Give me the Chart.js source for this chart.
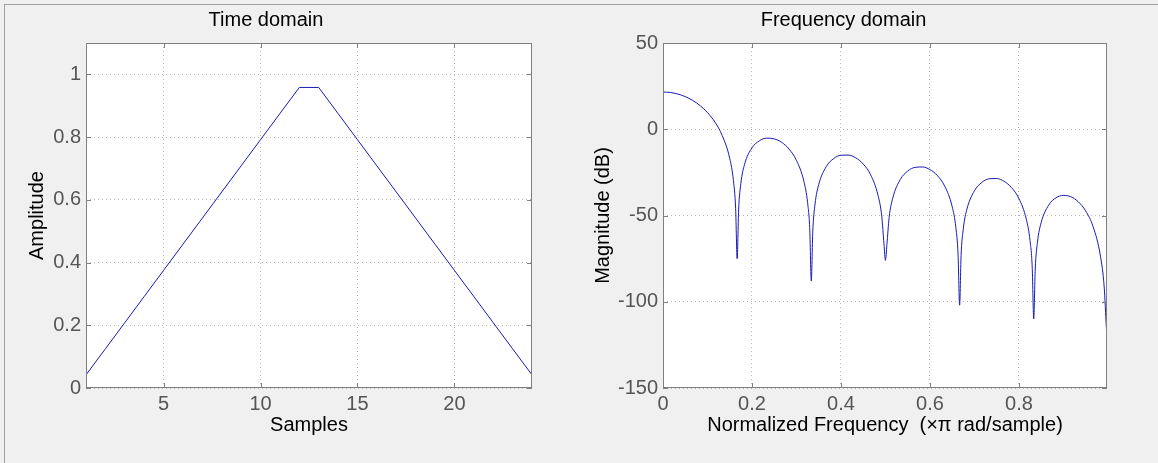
<!DOCTYPE html>
<html>
<head>
<meta charset="utf-8">
<script src="https://cdn.jsdelivr.net/npm/chart.js@4.4.1/dist/chart.umd.min.js"></script>
<style>
  body { margin: 0; background: #f0f0f0; width: 1158px; height: 463px; overflow: hidden; position: relative; }
  #frame { position: absolute; left: 4px; top: 4px; right: 0; bottom: 0; border-top: 1px solid #a0a0a0; border-left: 1px solid #a0a0a0; }
  canvas { position: absolute; top: 0; }
</style>
</head>
<body>
<div id="frame"></div>
<canvas id="timeChart" width="580" height="463" style="left:0"></canvas>
<canvas id="freqChart" width="578" height="463" style="left:580px"></canvas>
<script>
// time domain: window samples
const samples = [1, 2, 3, 4, 5, 6, 7, 8, 9, 10, 11, 12, 13, 14, 15, 16, 17, 18, 19, 20, 21, 22, 23, 24];
const amplitude = [0.0417, 0.125, 0.2083, 0.2917, 0.375, 0.4583, 0.5417, 0.625, 0.7083, 0.7917, 0.875, 0.9583,
                   0.9583, 0.875, 0.7917, 0.7083, 0.625, 0.5417, 0.4583, 0.375, 0.2917, 0.2083, 0.125, 0.0417];
const timeXTicks = [5, 10, 15, 20];
const timeYTicks = [0, 0.2, 0.4, 0.6, 0.8, 1];

// frequency domain: magnitude in dB
const freqX = [0, 0.0167, 0.0333, 0.05, 0.0667, 0.0833, 0.1, 0.1167, 0.1333, 0.15, 0.1583, 0.1633, 0.1667,
  0.17, 0.175, 0.1833, 0.2, 0.2167, 0.2333, 0.25, 0.2667, 0.2833, 0.3, 0.3167, 0.325, 0.33, 0.3333,
  0.3367, 0.3417, 0.35, 0.3667, 0.3833, 0.4, 0.4167, 0.4333, 0.45, 0.4667, 0.4833, 0.4917, 0.4967, 0.5,
  0.5033, 0.5083, 0.5167, 0.5333, 0.55, 0.5667, 0.5833, 0.6, 0.6167, 0.6333, 0.65, 0.6583, 0.6633, 0.6667,
  0.67, 0.675, 0.6833, 0.7, 0.7167, 0.7333, 0.75, 0.7667, 0.7833, 0.8, 0.8167, 0.825, 0.83, 0.8333,
  0.8367, 0.8417, 0.85, 0.8667, 0.8833, 0.9, 0.9167, 0.9333, 0.95, 0.9667, 0.9833, 0.9917, 0.9967, 0.998];
const magnitudeDb = [21.58, 21.30, 20.42, 18.92, 16.73, 13.71, 9.66, 4.16, -3.72, -16.95, -29.73, -46.13, -75,
  -46.80, -31.42, -20.38, -10.79, -6.67, -5.16, -5.59, -7.56, -11.48, -18.07, -30.22, -42.54, -58.68, -88,
  -59.05, -43.46, -32.07, -21.77, -17.06, -15.05, -14.97, -16.58, -20.14, -26.41, -38.27, -50.45, -66.51, -76,
  -66.79, -51.14, -39.64, -29.14, -24.25, -22.09, -21.87, -23.39, -26.84, -33.04, -44.86, -57.01, -73.06, -102,
  -73.32, -57.67, -46.18, -35.67, -30.81, -28.71, -28.55, -30.20, -33.79, -40.17, -52.23, -64.51, -80.62, -110,
  -81.00, -65.45, -54.13, -44.07, -39.76, -38.35, -39.12, -41.98, -47.32, -56.41, -73.62, -91.47, -115.28, -120];
const freqXTicks = [0, 0.2, 0.4, 0.6, 0.8];
const freqYTicks = [-150, -100, -50, 0, 50];

const lineColor = '#1a1ab4';
const fontFamily = '"Liberation Sans", Arial, sans-serif';

// white axes background, grey box and small inward ticks like matlab
const axesBox = {
  id: 'axesBox',
  beforeDraw(chart) {
    const { ctx, chartArea: a } = chart;
    ctx.save();
    ctx.fillStyle = '#ffffff';
    ctx.fillRect(a.left, a.top, a.width, a.height);
    ctx.restore();
  },
  afterDatasetsDraw(chart) {
    const { ctx, chartArea: a, scales } = chart;
    ctx.save();
    ctx.strokeStyle = '#7f7f7f';
    ctx.lineWidth = 1;
    ctx.strokeRect(Math.round(a.left) + 0.5, Math.round(a.top) + 0.5, Math.round(a.width) - 1, Math.round(a.height) - 1);
    ctx.beginPath();
    scales.x.ticks.forEach(t => {
      const px = Math.round(scales.x.getPixelForValue(t.value)) + 0.5;
      ctx.moveTo(px, a.bottom); ctx.lineTo(px, a.bottom - 5);
      ctx.moveTo(px, a.top); ctx.lineTo(px, a.top + 5);
    });
    scales.y.ticks.forEach(t => {
      const py = Math.round(scales.y.getPixelForValue(t.value)) + 0.5;
      ctx.moveTo(a.left, py); ctx.lineTo(a.left + 5, py);
      ctx.moveTo(a.right, py); ctx.lineTo(a.right - 5, py);
    });
    ctx.stroke();
    ctx.restore();
  }
};

function makeChart(id, cfg) {
  const ctx = document.getElementById(id).getContext('2d');
  return new Chart(ctx, {
    type: 'line',
    data: {
      datasets: [{
        data: cfg.xs.map((x, i) => ({ x: x, y: cfg.ys[i] })),
        borderColor: lineColor,
        borderWidth: 1,
        pointRadius: 0,
        fill: false,
        tension: cfg.smooth ? 0.4 : 0,
        cubicInterpolationMode: cfg.smooth ? 'monotone' : 'default'
      }]
    },
    options: {
      responsive: false,
      animation: false,
      events: [],
      layout: { padding: { left: 0, right: cfg.padRight, top: 0, bottom: 0 } },
      plugins: {
        legend: { display: false },
        tooltip: { enabled: false },
        title: {
          display: true,
          text: cfg.title,
          color: '#000',
          font: { family: fontFamily, size: 20, weight: 'normal', lineHeight: 1.2 },
          padding: { top: 8, bottom: 11 }
        }
      },
      scales: {
        x: {
          type: 'linear',
          min: cfg.xMin,
          max: cfg.xMax,
          afterBuildTicks: s => { s.ticks = cfg.xTicks.map(v => ({ value: v })); },
          afterFit: s => { s.height = 75; },
          grid: { color: '#b8b8b8', lineWidth: 1, drawTicks: false },
          border: { display: false, dash: [1, 3] },
          ticks: { color: '#555', padding: 4, maxRotation: 0, font: { family: fontFamily, size: 20 }, callback: v => String(v) },
          title: {
            display: true,
            text: cfg.xTitle,
            color: '#000',
            font: { family: fontFamily, size: 20, lineHeight: 1.2 },
            padding: { top: 0, bottom: 26 }
          }
        },
        y: {
          type: 'linear',
          min: cfg.yMin,
          max: cfg.yMax,
          afterBuildTicks: s => { s.ticks = cfg.yTicks.map(v => ({ value: v })); },
          afterFit: s => { s.width = cfg.yWidth; },
          grid: { color: '#b8b8b8', lineWidth: 1, drawTicks: false },
          border: { display: false, dash: [1, 3] },
          ticks: { color: '#555', padding: 5, font: { family: fontFamily, size: 20 }, callback: v => String(v) },
          title: {
            display: true,
            text: cfg.yTitle,
            color: '#000',
            font: { family: fontFamily, size: 20, lineHeight: 1.2 },
            padding: { top: cfg.yTitlePad, bottom: 0 }
          }
        }
      }
    },
    plugins: [axesBox]
  });
}

makeChart('timeChart', {
  xs: samples, ys: amplitude, smooth: false,
  title: 'Time domain', xTitle: 'Samples', yTitle: 'Amplitude',
  xMin: 1, xMax: 24, yMin: 0, yMax: 1.1,
  xTicks: timeXTicks, yTicks: timeYTicks,
  yWidth: 86, padRight: 48, yTitlePad: 25
});

makeChart('freqChart', {
  xs: freqX, ys: magnitudeDb, smooth: true,
  title: 'Frequency domain', xTitle: 'Normalized Frequency  (\u00d7\u03c0 rad/sample)', yTitle: 'Magnitude (dB)',
  xMin: 0, xMax: 0.998, yMin: -150, yMax: 50,
  xTicks: freqXTicks, yTicks: freqYTicks,
  yWidth: 83, padRight: 51, yTitlePad: 11
});
</script>
</body>
</html>
